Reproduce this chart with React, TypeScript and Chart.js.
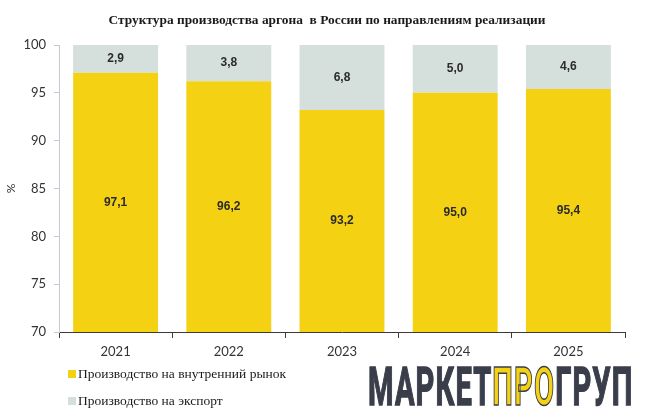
import React, { useEffect, useRef } from "react";
import { Chart, registerables } from "chart.js";

Chart.register(...registerables);

const titleText = "Структура производства аргона  в России по направлениям реализации";
const years = ["2021", "2022", "2023", "2024", "2025"];
const seriesNames = ["Производство на внутренний рынок", "Производство на экспорт"];
const domestic = [97.1, 96.2, 93.2, 95.0, 95.4];
const exported = [2.9, 3.8, 6.8, 5.0, 4.6];
const seriesColors = ["#F4D213", "#D5DFDC"];
const yMin = 70;
const yMax = 100;
const yStep = 5;
const yTitle = "%";
const logoParts = ["МАРКЕТ", "ПРО", "ГРУП"];

const fmt = (v: number) => v.toFixed(1).replace(".", ",");

const labelPlugin = {
  id: "segLabels",
  afterDatasetsDraw(chart: any) {
    const ctx = chart.ctx;
    const area = chart.chartArea;
    ctx.save();
    ctx.font = "bold 12px 'Liberation Sans', Arial, sans-serif";
    ctx.fillStyle = "#2b2b2b";
    ctx.textAlign = "center";
    ctx.textBaseline = "middle";
    chart.data.datasets.forEach((ds: any, di: number) => {
      const meta = chart.getDatasetMeta(di);
      meta.data.forEach((el: any, i: number) => {
        const p = el.getProps(["x", "y", "base"], true);
        const top = Math.max(Math.min(p.y, p.base), area.top);
        const bottom = Math.min(Math.max(p.y, p.base), area.bottom);
        ctx.fillText(fmt(ds.data[i]), p.x, (top + bottom) / 2);
      });
    });
    ctx.restore();
  },
};

export default function App() {
  const ref = useRef<HTMLCanvasElement | null>(null);

  useEffect(() => {
    if (!ref.current) return;
    const chart = new Chart(ref.current, {
      type: "bar",
      data: {
        labels: years,
        datasets: [
          { label: seriesNames[0], data: domestic, backgroundColor: seriesColors[0], borderWidth: 0 },
          { label: seriesNames[1], data: exported, backgroundColor: seriesColors[1], borderWidth: 0 },
        ],
      },
      options: {
        responsive: false,
        animation: false,
        layout: { padding: { left: 0, right: 24, top: 45, bottom: 56 } },
        datasets: { bar: { barPercentage: 0.75, categoryPercentage: 1.0 } },
        plugins: {
          legend: { display: false },
          tooltip: { enabled: false },
          title: { display: false },
        },
        scales: {
          x: {
            stacked: true,
            grid: { drawOnChartArea: false, drawTicks: true, tickLength: 6, offset: true, color: "#3a3a3a", lineWidth: 1 },
            border: { display: true, color: "#3a3a3a", width: 1 },
            ticks: { color: "#333", font: { family: "Lato, 'Liberation Sans', sans-serif", size: 13 }, padding: 6 },
            afterFit: (s: any) => { s.height = 30; },
          },
          y: {
            stacked: true,
            min: yMin,
            max: yMax,
            ticks: { stepSize: yStep, color: "#333", font: { family: "Lato, 'Liberation Sans', sans-serif", size: 13 }, padding: 8 },
            grid: { drawOnChartArea: false, drawTicks: true, tickLength: 5, color: "#c5c9d2" },
            border: { display: true, color: "#c5c9d2", width: 1 },
            title: { display: true, text: yTitle, color: "#333", font: { family: "Lato, 'Liberation Sans', sans-serif", size: 12 }, padding: 4 },
            afterFit: (s: any) => { s.width = 59; },
          },
        },
      },
      plugins: [labelPlugin],
    } as any);
    return () => chart.destroy();
  }, []);

  return (
    <div style={{ position: "fixed", left: 0, top: 0, width: 649, height: 418, background: "#fff", overflow: "hidden" }}>
      <canvas ref={ref} width={649} height={418} style={{ position: "absolute", left: 0, top: 0, width: 649, height: 418 }} />
      <div
        style={{
          position: "absolute", left: 0, top: 12, width: 654, textAlign: "center",
          fontFamily: "'Liberation Serif', 'Times New Roman', serif", fontWeight: "bold", fontSize: 13.4, color: "#1a1a1a",
          whiteSpace: "pre",
        }}
      >
        {titleText}
      </div>
      {seriesNames.map((name, i) => (
        <div key={name} style={{ position: "absolute", left: 68, top: 366 + i * 27, display: "flex", alignItems: "center", fontFamily: "'Liberation Serif', 'Times New Roman', serif", fontSize: 13.5, color: "#1a1a1a", whiteSpace: "nowrap" }}>
          <span style={{ display: "inline-block", width: 8, height: 8, background: seriesColors[i], marginRight: 2 }} />
          <span>{name}</span>
        </div>
      ))}
      <div
        style={{
          position: "absolute", left: 368, top: 357, whiteSpace: "nowrap",
          fontFamily: "Roboto, 'Liberation Sans', sans-serif", fontWeight: 700, fontSize: 53, lineHeight: "60px",
          transform: "scaleX(0.55)", transformOrigin: "left top", color: "#3a3d4a", letterSpacing: 2,
        }}
      >
        <span style={{ WebkitTextStroke: "1.5px #3a3d4a" }}>{logoParts[0]}</span>
        <span style={{ color: "#F4D213", WebkitTextStroke: "1.5px #3a3d4a" }}>{logoParts[1]}</span>
        <span style={{ WebkitTextStroke: "1.5px #3a3d4a" }}>{logoParts[2]}</span>
      </div>
    </div>
  );
}
